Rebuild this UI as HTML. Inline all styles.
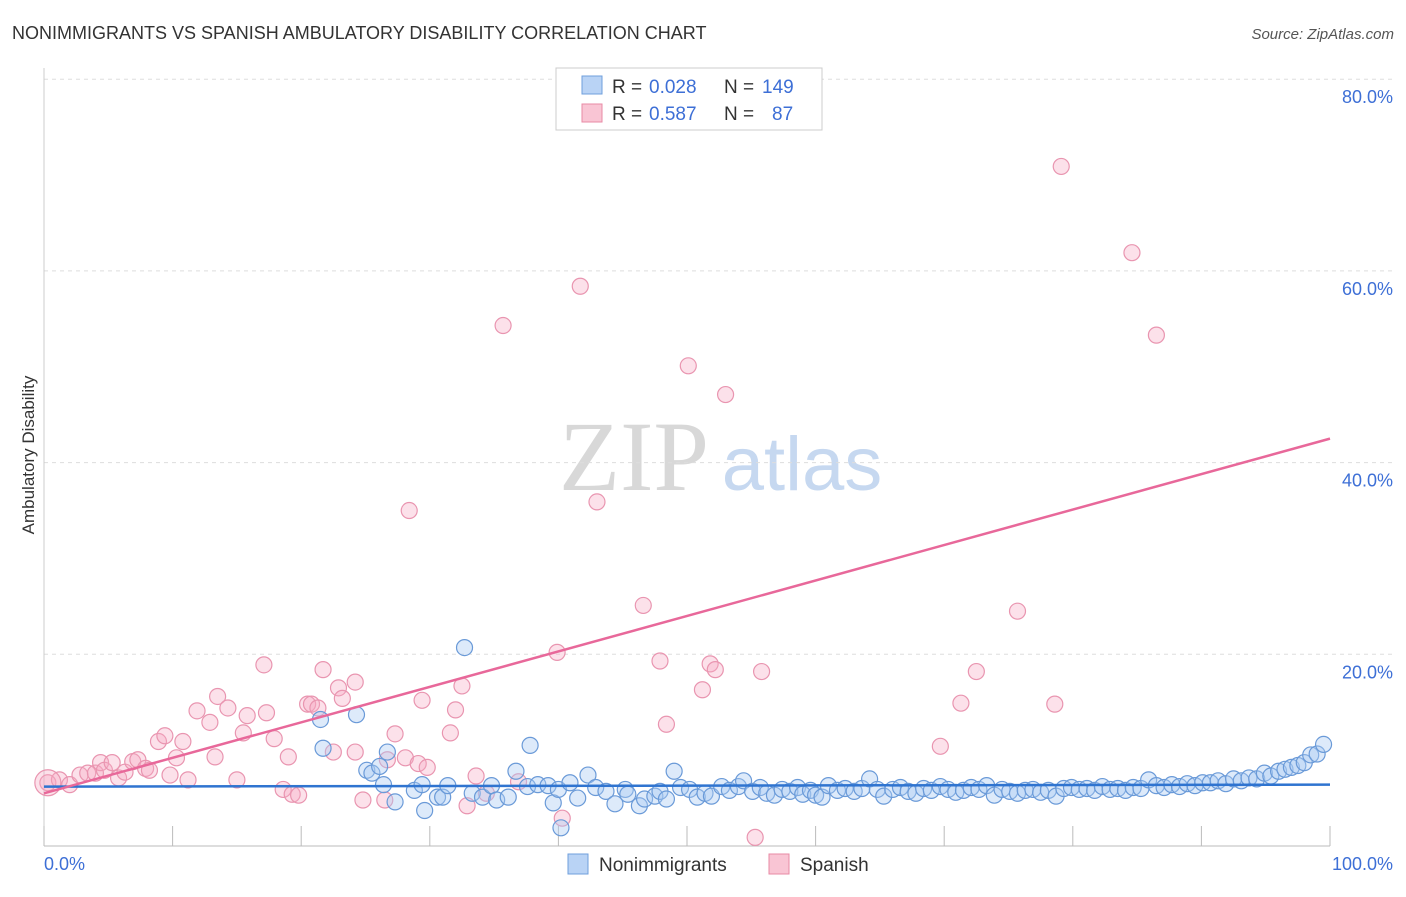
<!DOCTYPE html>
<html><head><meta charset="utf-8">
<style>
body{margin:0;background:#fff;font-family:"Liberation Sans",sans-serif;}
svg text{font-family:"Liberation Sans",sans-serif;}
</style></head>
<body>
<svg id="chart" width="1406" height="892" viewBox="0 0 1406 892" xmlns="http://www.w3.org/2000/svg">
<text x="12" y="39" font-size="18" fill="#333">NONIMMIGRANTS VS SPANISH AMBULATORY DISABILITY CORRELATION CHART</text>
<text x="1394" y="39" font-size="15" fill="#555" font-style="italic" text-anchor="end">Source: ZipAtlas.com</text>
<g>
<text x="634" y="490" font-size="100" fill="#d8d8d8" style="font-family:'Liberation Serif',serif" text-anchor="middle">ZIP</text>
<text x="802" y="490" font-size="76" fill="#c6d8f0" text-anchor="middle">atlas</text>
</g>
<g id="grid"></g>
<g id="axes"></g>
<g id="pts"></g>
<g id="trends"></g>
<text x="34" y="455" font-size="17" fill="#333" text-anchor="middle" transform="rotate(-90 34 455)">Ambulatory Disability</text>
<text x="44" y="870" font-size="18" fill="#3d6fd6">0.0%</text>
<text x="1393" y="870" font-size="18" fill="#3d6fd6" text-anchor="end">100.0%</text>
<g>
<rect x="556" y="68" width="266" height="62" fill="#fff" stroke="#ccc"/>
<rect x="582" y="76" width="20" height="18" fill="#b9d3f5" stroke="#6f9fdc"/>
<rect x="582" y="104" width="20" height="18" fill="#f9c5d4" stroke="#e88aa5"/>
<text x="612" y="93" font-size="19" fill="#333">R =</text>
<text x="649" y="93" font-size="19" fill="#3d6fd6">0.028</text>
<text x="724" y="93" font-size="19" fill="#333">N =</text>
<text x="762" y="93" font-size="19" fill="#3d6fd6">149</text>
<text x="612" y="120" font-size="19" fill="#333">R =</text>
<text x="649" y="120" font-size="19" fill="#3d6fd6">0.587</text>
<text x="724" y="120" font-size="19" fill="#333">N =</text>
<text x="772" y="120" font-size="19" fill="#3d6fd6">87</text>
</g>
<g>
<rect x="568" y="854" width="20" height="20" fill="#b9d3f5" stroke="#6f9fdc"/>
<text x="599" y="871" font-size="19" fill="#333">Nonimmigrants</text>
<rect x="769" y="854" width="20" height="20" fill="#f9c5d4" stroke="#e88aa5"/>
<text x="800" y="871" font-size="19" fill="#333">Spanish</text>
</g>
</svg>
<script>
const yTicks=[20,40,60,80];
const yTickLabels=["20.0%","40.0%","60.0%","80.0%"];
const xTicks=[0,10,20,30,40,50,60,70,80,90,100];
const blueX=[21.5,21.7,24.3,25.1,25.5,26.1,26.4,26.7,27.3,28.8,29.4,29.6,30.6,31.0,31.4,32.7,33.3,34.1,34.8,35.2,36.1,36.7,37.8,37.6,38.4,39.2,39.6,40.0,40.2,40.9,41.5,42.3,42.9,43.7,44.4,45.2,45.4,46.3,46.7,47.5,47.9,48.4,49.0,49.5,50.2,50.8,51.4,51.9,52.7,53.3,54.0,54.4,55.1,55.7,56.2,56.8,57.4,58.0,58.6,59.0,59.6,60.0,60.5,61.0,61.7,62.3,63.0,63.6,64.2,64.8,65.3,66.0,66.6,67.2,67.8,68.4,69.0,69.7,70.3,70.9,71.5,72.1,72.7,73.3,73.9,74.5,75.1,75.7,76.3,76.9,77.5,78.1,78.7,79.3,79.9,80.5,81.1,81.7,82.3,82.9,83.5,84.1,84.7,85.3,85.9,86.5,87.1,87.7,88.3,88.9,89.5,90.1,90.7,91.3,91.9,92.5,93.1,93.7,94.3,94.9,95.4,96.0,96.5,97.0,97.5,98.0,98.5,99.0,99.5];
const blueY=[13.2,10.2,13.7,7.9,7.6,8.3,6.4,9.8,4.6,5.8,6.4,3.7,5.1,5.1,6.3,20.7,5.5,5.1,6.3,4.8,5.1,7.8,10.5,6.2,6.4,6.3,4.5,5.9,1.9,6.6,5.0,7.4,6.1,5.7,4.4,5.9,5.4,4.2,4.9,5.2,5.7,4.9,7.8,6.1,5.9,5.1,5.5,5.2,6.2,5.8,6.2,6.8,5.7,6.1,5.5,5.3,5.9,5.7,6.1,5.4,5.8,5.3,5.1,6.3,5.8,6.0,5.7,6.0,7.0,5.9,5.2,5.9,6.1,5.7,5.5,6.0,5.8,6.2,5.9,5.6,5.8,6.1,5.9,6.3,5.3,5.9,5.7,5.5,5.8,5.9,5.6,5.8,5.2,6.0,6.1,5.9,6.0,5.8,6.2,5.9,6.0,5.8,6.1,6.0,6.9,6.3,6.1,6.4,6.2,6.5,6.3,6.6,6.6,6.8,6.5,7.0,6.8,7.1,7.0,7.6,7.3,7.8,8.0,8.2,8.4,8.7,9.5,9.6,10.6];
const pinkX=[0.3,1.2,2.0,2.8,3.4,4.0,4.4,4.7,5.3,5.8,6.3,6.9,7.3,7.9,8.2,8.9,9.4,9.8,10.3,10.8,11.2,11.9,12.9,13.3,13.5,14.3,15.0,15.5,15.8,17.3,17.9,17.1,18.6,19.0,19.3,19.8,20.5,20.8,21.3,21.7,22.5,22.9,23.2,24.2,24.2,24.8,26.5,26.7,27.3,28.1,28.4,29.4,29.1,29.8,31.6,32.0,32.5,32.9,33.6,34.4,35.7,36.9,39.9,40.3,41.7,43.0,46.6,47.9,48.4,50.1,51.2,51.8,52.2,53.0,55.3,55.8,69.7,71.3,72.5,75.7,78.6,79.1,84.6,86.5];
const pinkY=[6.6,6.9,6.4,7.4,7.6,7.6,8.7,7.9,8.7,7.1,7.7,8.8,9.0,8.1,7.9,10.9,11.5,7.4,9.2,10.9,6.9,14.1,12.9,9.3,15.6,14.4,6.9,11.8,13.6,13.9,11.2,18.9,5.9,9.3,5.4,5.3,14.8,14.8,14.4,18.4,9.8,16.5,15.4,17.1,9.8,4.8,4.8,9.0,11.7,9.2,35.0,15.2,8.6,8.2,11.8,14.2,16.7,4.2,7.3,5.5,54.3,6.7,20.2,2.9,58.4,35.9,25.1,19.3,12.7,50.1,16.3,19.0,18.4,47.1,0.9,18.2,10.4,14.9,18.2,24.5,14.8,70.9,61.9,53.3];
const blueTrend=[6.2,6.4];
const pinkTrend=[5.5,42.5];

const NS="http://www.w3.org/2000/svg";
const X0=44,X1=1330,Y0=846,PX_PER=9.585;
function sx(v){return X0+(X1-X0)*v/100;}
function sy(v){return Y0-v*PX_PER;}
function mk(tag,attrs,parent){const e=document.createElementNS(NS,tag);for(const k in attrs)e.setAttribute(k,attrs[k]);parent.appendChild(e);return e;}
const grid=document.getElementById('grid'),axes=document.getElementById('axes'),pts=document.getElementById('pts'),tr=document.getElementById('trends');
yTicks.forEach((t,i)=>{
 const l=mk('line',{x1:X0,x2:1395,y1:sy(t),y2:sy(t),stroke:'#ddd','stroke-dasharray':'4 4'},grid);
 
 
 const tx=mk('text',{x:1393,y:sy(t)+24,'font-size':18,fill:'#3d6fd6','text-anchor':'end'},grid);
 tx.textContent=yTickLabels[i];
 
 
});
const ya=mk('line',{x1:X0,x2:X0,y1:68,y2:Y0,stroke:'#ccc'},axes);


const xa=mk('line',{x1:X0,x2:X1,y1:Y0,y2:Y0,stroke:'#bbb'},axes);


xTicks.forEach(t=>{
 const l=mk('line',{x1:sx(t),x2:sx(t),y1:Y0,y2:Y0-20,stroke:'#bbb'},axes);
 
 
});
pinkX.forEach((x,i)=>{
 const c=mk('circle',{cx:sx(x),cy:sy(pinkY[i]),r:8,fill:'rgba(245,170,195,0.35)',stroke:'#e995b0','stroke-width':1.2},pts);
 
 
});
const big=mk('circle',{cx:sx(pinkX[0]),cy:sy(pinkY[0]),r:13,fill:'rgba(245,170,195,0.35)',stroke:'#e995b0','stroke-width':1.2},pts);


blueX.forEach((x,i)=>{
 const c=mk('circle',{cx:sx(x),cy:sy(blueY[i]),r:8,fill:'rgba(170,202,242,0.4)',stroke:'#6a9ad8','stroke-width':1.2},pts);
 
 
});
const bt=mk('line',{x1:sx(0),x2:sx(100),y1:sy(blueTrend[0]),y2:sy(blueTrend[1]),stroke:'#2f74d0','stroke-width':2.5},tr);


const pt=mk('line',{x1:sx(0),x2:sx(100),y1:sy(pinkTrend[0]),y2:sy(pinkTrend[1]),stroke:'#e8689a','stroke-width':2.5},tr);


</script>
</body></html>
